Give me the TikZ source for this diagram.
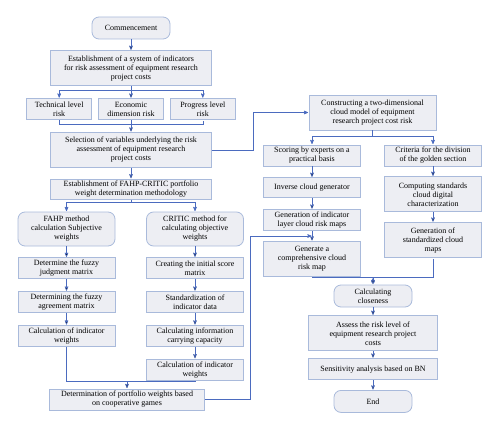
\documentclass[tikz,border=0pt]{standalone}
\usepackage{fontspec}
\setmainfont{Liberation Serif}
\usepackage{tikz}
\usetikzlibrary{
        arrows,
        calc,
        positioning
    }
\definecolor{boxfill}{HTML}{EDEEF3}
\definecolor{boxline}{HTML}{A9BADB}
\definecolor{linkblue}{HTML}{4B6BBF}
\tikzset{>=stealth',shorten >=0.5pt,node distance=11pt}
\tikzset{
    box/.style={draw=boxline,fill=boxfill,line width=0.8pt,align=center,
        inner sep=1pt,font=\fontsize{8}{9}\selectfont},
    term/.style={box,rounded corners=7pt},
    mainw/.style={minimum width=161pt},
    sidew/.style={minimum width=97pt},
    h2/.style={minimum height=21pt},
    h3/.style={minimum height=35pt},
    link/.style={draw=linkblue,line width=0.6pt}
}

\begin{document}
\begin{tikzpicture}[x=1pt,y=1pt]
    \useasboundingbox (0,0) rectangle (500,-428);
    % left column
    \node[term,minimum width=78pt,minimum height=22pt] (comm) at (131,-28) {Commencement};
    \node[box,mainw,h3,below=11pt of comm] (est) {Establishment of a system of indicators\\for risk assessment of equipment research\\project costs};
    \node[box,minimum width=65pt,h2,below=12pt of est] (econ) {Economic\\dimension risk};
    \node[box,minimum width=65pt,h2,left=6pt of econ] (tech) {Technical level\\risk};
    \node[box,minimum width=65pt,h2,right=6pt of econ] (prog) {Progress level\\risk};
    \node[box,mainw,h3,below=12pt of econ] (sel) {Selection of variables underlying the risk\\assessment of equipment research\\project costs};
    \node[box,mainw,minimum height=20pt,below=11pt of sel] (fc) {Establishment of FAHP-CRITIC portfolio\\weight determination methodology};
    \node[term,sidew,minimum height=34pt] (fahp) at (66.5,-229) {FAHP method\\calculation Subjective\\weights};
    \node[term,sidew,minimum height=34pt] (critic) at (195,-229) {CRITIC method for\\calculating objective\\weights};
    \node[box,sidew,h2,below=11pt of fahp] (fz1) {Determine the fuzzy\\judgment matrix};
    \node[box,sidew,h2,below=12pt of fz1] (fz2) {Determining the fuzzy\\agreement matrix};
    \node[box,sidew,h2,below=12pt of fz2] (fz3) {Calculation of indicator\\weights};
    \node[box,sidew,h2,below=11pt of critic] (cr1) {Creating the initial score\\matrix};
    \node[box,sidew,h2,below=12pt of cr1] (cr2) {Standardization of\\indicator data};
    \node[box,sidew,h2,below=12pt of cr2] (cr3) {Calculating information\\carrying capacity};
    \node[box,sidew,h2,below=12pt of cr3] (cr4) {Calculation of indicator\\weights};
    \node[box,minimum width=155pt,h2] (port) at (127,-399.5) {Determination of portfolio weights based\\on cooperative games};
    % right column
    \node[box,minimum width=127pt,h3] (cons) at (372.5,-112.5) {Constructing a two-dimensional\\cloud model of equipment\\research project cost risk};
    \node[box,sidew,h2] (sc) at (312,-155.5) {Scoring by experts on a\\practical basis};
    \node[box,sidew,h2] (crit) at (433,-155.5) {Criteria for the division\\of the golden section};
    \node[box,sidew,minimum height=20pt,below=11pt of sc] (inv) {Inverse cloud generator};
    \node[box,sidew,h2,below=11pt of inv] (gil) {Generation of indicator\\layer cloud risk maps};
    \node[box,sidew,h3,below=10pt of gil] (gcr) {Generate a\\comprehensive cloud\\risk map};
    \node[box,sidew,h3,below=10pt of crit] (comp) {Computing standards\\cloud digital\\characterization};
    \node[box,sidew,h3,below=10pt of comp] (gsc) {Generation of\\standardized cloud\\maps};
    \node[term,minimum width=78pt,minimum height=22pt] (clo) at (373,-296) {Calculating\\closeness};
    \node[box,minimum width=129pt,h3,below=8pt of clo] (ass) {Assess the risk level of\\equipment research project\\costs};
    \node[box,minimum width=129pt,h2,below=7pt of ass] (sen) {Sensitivity analysis based on BN};
    \node[term,minimum width=78pt,minimum height=22pt,below=10pt of sen] (end) {End};
    % joints
    \coordinate (eb) at ($(est.south)+(0,-4)$);
    \coordinate (fb) at ($(fc.south)+(0,-3)$);
    \coordinate (cb) at ($(cons.south)+(0,-6)$);
    \coordinate (mj) at ($(port.north)+(0,7)$);
    \coordinate (mc) at ($(clo.north)+(0,7)$);
    \coordinate (gx) at ($(gil.south)!0.5!(gcr.north)$);
    \path[link,->]
        (comm) edge (est)
        (est) edge (econ)
        (econ) edge (sel)
        (sel) edge (fc)
        (fahp) edge (fz1)
        (fz1) edge (fz2)
        (fz2) edge (fz3)
        (critic) edge (cr1)
        (cr1) edge (cr2)
        (cr2) edge (cr3)
        (cr3) edge (cr4)
        (mj) edge (port)
        (sc) edge (inv)
        (inv) edge (gil)
        (gil) edge (gcr)
        (crit) edge (comp)
        (comp) edge (gsc)
        (mc) edge (clo)
        (clo) edge (ass)
        (ass) edge (sen)
        (sen) edge (end);
    \draw[link,->] (est.south) -- (eb) -| (tech);
    \draw[link,->] (eb) -| (prog);
    \draw[link] (tech.south) -- ++(0,-4) -| (prog.south);
    \draw[link,->] (sel.east) -- ++(41,0) |- (cons.west);
    \draw[link,->] (fc.south) -- (fb) -| (fahp);
    \draw[link,->] (fb) -| (critic);
    \draw[link] (fz3.south) |- (mj) -| (cr4.south);
    \draw[link,->] (port.east) -- ++(45,0) |- (gx);
    \draw[link,->] (cons.south) -- (cb) -| (sc);
    \draw[link,->] (cb) -| (crit);
    \draw[link] (gcr.south) |- (mc) -| (gsc.south);
\end{tikzpicture}
\end{document}
